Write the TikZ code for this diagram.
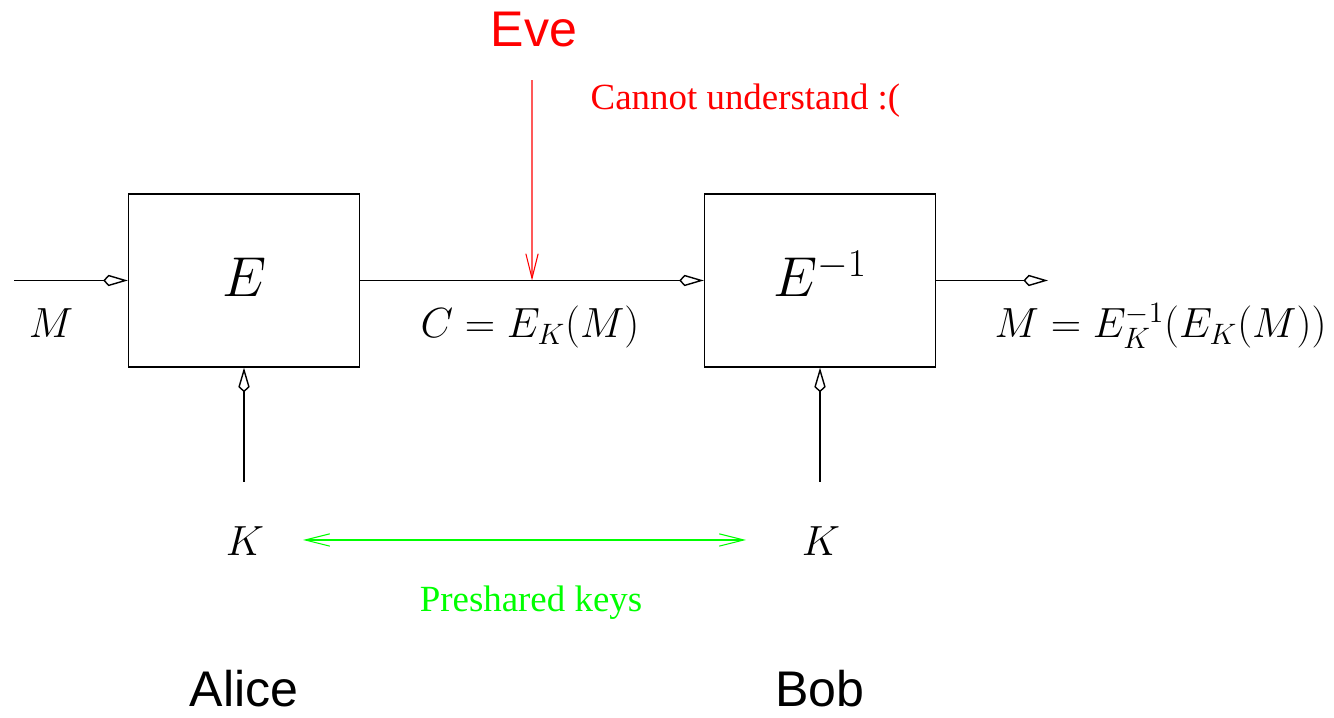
\RequirePackage{fix-cm}
\documentclass[tikz,border=0pt]{standalone}
\usepackage[no-math]{fontspec}
\newfontfamily\helvfont{Liberation Sans}
\newfontfamily\timesfont{Liberation Serif}
\usetikzlibrary{arrows.meta,positioning}

\begin{document}
\begin{tikzpicture}[line width=0.8pt,
  mathlbl/.style={inner sep=0pt, font=\fontsize{24}{26}\selectfont},
  boxname/.style={inner sep=0pt, font=\fontsize{32}{34}\selectfont},
  bigname/.style={inner sep=0pt, font=\helvfont\fontsize{28.5}{30}\selectfont},
  note/.style={inner sep=0pt, font=\timesfont\fontsize{21}{23}\selectfont},
  blk/.style={draw, minimum width=4.62cm, minimum height=3.46cm, inner sep=0pt},
  diam/.style={-{Kite[open, length=14pt, width=6.5pt, inset=3pt]}},
  barb/.style={-{Straight Barb[length=14pt, width=7pt]}},
  dblbarb/.style={{Straight Barb[length=14pt, width=7pt]}-{Straight Barb[length=14pt, width=7pt]}}]
  \useasboundingbox (0,0) rectangle (26.68,14.36);
  % cipher boxes
  \node[blk] (enc) at (4.88,8.75) {};
  \node[blk] (dec) at (16.4,8.75) {};
  \node[boxname, anchor=base] (encname) at (4.9,8.42) {$E$};
  \node[boxname, anchor=base] (decname) at (16.4,8.42) {$E^{-1}$};
  % message path
  \coordinate (msgin) at (0.28,8.75);
  \coordinate (msgout) at (20.96,8.75);
  \coordinate (tap) at (10.64,8.75);
  \draw[diam] (msgin) -- (enc.west);
  \draw[diam] (enc.east) -- (dec.west);
  \draw[diam] (dec.east) -- (msgout);
  \node[mathlbl, anchor=base] (plain) at (1.02,7.6) {$M$};
  \node[mathlbl, anchor=base] (cipher) at (10.6,7.6) {$C = E_K(M)$};
  \node[mathlbl, anchor=base west] (result) at (19.88,7.6) {$M = E_K^{-1}(E_K(M))$};
  % keys
  \coordinate (keya) at (4.88,4.72);
  \coordinate (keyb) at (16.4,4.72);
  \draw[diam] (keya) -- (enc.south);
  \draw[diam] (keyb) -- (dec.south);
  \node[mathlbl, anchor=base] (ka) at (4.9,3.25) {$K$};
  \node[mathlbl, anchor=base] (kb) at (16.42,3.25) {$K$};
  \coordinate (sharel) at (6.06,3.56);
  \coordinate (sharer) at (14.92,3.56);
  \draw[green, line width=0.6pt, dblbarb] (sharel) -- (sharer);
  \node[note, green, anchor=base] (preshared) at (10.62,2.12) {Preshared keys};
  % eavesdropper
  \node[bigname, red, anchor=base] (eve) at (10.68,13.42) {Eve};
  \draw[red, line width=0.6pt, barb, shorten <=0.64cm] (eve.south) ++(-0.04,0) -- (tap);
  \node[note, red, anchor=base west] (nope) at (11.8,12.16) {Cannot understand :(};
  % parties
  \node[bigname, anchor=base] (alice) at (4.88,0.22) {Alice};
  \node[bigname, anchor=base] (bob) at (16.4,0.22) {Bob};
\end{tikzpicture}
\end{document}
